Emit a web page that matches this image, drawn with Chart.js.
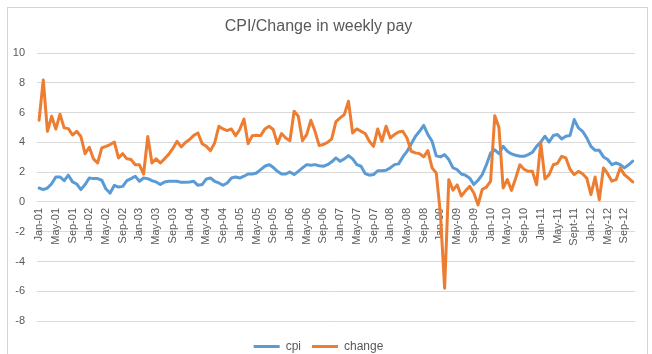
<!DOCTYPE html>
<html>
<head>
<meta charset="utf-8">
<script src="https://cdn.jsdelivr.net/npm/chart.js@4.4.0/dist/chart.umd.min.js"></script>
<style>
html,body{margin:0;padding:0;background:#fff;}
#wrap{position:relative;width:652px;height:354px;overflow:hidden;background:#fff;}
#c{position:absolute;left:0;top:0;}
#frame{position:absolute;left:7px;top:7px;width:639px;height:346px;border:1px solid #d4d4d4;pointer-events:none;}
</style>
</head>
<body>
<div id="wrap"><canvas id="c" width="652" height="354"></canvas><div id="frame"></div></div>
<script>
// Category labels (monthly, Jan-01 .. Nov-12)
const monthNames = ["Jan","Feb","Mar","Apr","May","Jun","Jul","Aug","Sep","Oct","Nov","Dec"];
const yearCodes = ["01","02","03","04","05","06","07","08","09","10","11","12"];
const labelOverrides = { "Sep-11": "Sept-11" };
const categories = [];
for (const y of yearCodes) {
  for (const m of monthNames) {
    if (categories.length < 143) {
      const l = m + "-" + y;
      categories.push(labelOverrides[l] || l);
    }
  }
}

const cpi = [
  0.94, 0.83, 0.94, 1.23, 1.68, 1.68, 1.43, 1.8, 1.35, 1.21, 0.83, 1.17,
  1.61, 1.57, 1.57, 1.46, 0.87, 0.6, 1.12, 1.0, 1.05, 1.43, 1.57, 1.73,
  1.39, 1.61, 1.57, 1.43, 1.35, 1.17, 1.35, 1.39, 1.39, 1.39, 1.32, 1.32,
  1.35, 1.39, 1.12, 1.17, 1.55, 1.61, 1.39, 1.28, 1.12, 1.28, 1.61, 1.68,
  1.61, 1.73, 1.88, 1.88, 1.95, 2.17, 2.4, 2.51, 2.33, 2.06, 1.88, 1.88,
  2.02, 1.84, 2.06, 2.29, 2.51, 2.47, 2.51, 2.44, 2.4, 2.51,
  2.7, 2.96, 2.74, 2.9, 3.12, 2.9, 2.51, 2.4, 1.91, 1.8, 1.84, 2.1,
  2.1, 2.13, 2.29, 2.51, 2.56,
  3.03, 3.4, 3.9, 4.4, 4.75, 5.15, 4.53, 4.08, 3.1, 3.03, 3.18, 2.85,
  2.3, 2.17, 1.88, 1.8, 1.6, 1.17, 1.46, 1.84,
  2.5, 3.3, 3.5, 3.25, 3.74, 3.41, 3.23, 3.14, 3.07, 3.07, 3.18, 3.34,
  3.74, 4.03, 4.42, 4.03, 4.47, 4.53, 4.24, 4.42, 4.47, 5.54, 4.98, 4.75,
  4.31, 3.74, 3.47, 3.47, 3.03, 2.85, 2.51, 2.62, 2.51, 2.29, 2.5, 2.74
];

const change = [
  5.5, 8.2, 4.75, 5.76, 4.9, 5.9, 4.98, 4.93, 4.5, 4.75, 4.4, 3.25,
  3.68, 2.9, 2.62, 3.63, 3.74, 3.86, 4.03, 2.96, 3.25, 2.9, 2.85, 2.5,
  2.5, 1.88, 4.4, 2.62, 2.9, 2.62, 2.9, 3.2, 3.6, 4.08, 3.7, 4.0,
  4.2,
  4.48, 4.64, 3.92, 3.74, 3.45, 3.97, 5.09, 4.91, 4.8, 4.91, 4.46, 4.87,
  5.58, 3.92, 4.46, 4.48, 4.46, 4.91, 5.09, 4.87, 3.92, 4.6, 4.3, 4.12,
  6.1, 5.76, 4.12, 4.53, 5.49, 4.75, 3.79, 3.86, 4.01, 4.24,
  5.4, 5.65, 5.87, 6.77, 4.64, 4.91, 4.75, 4.6, 4.08, 3.74, 4.91, 4.08,
  5.09, 4.3, 4.53, 4.71, 4.75, 4.3, 3.41, 3.3, 3.25, 3.03, 3.45, 2.29, 1.95,
  -0.8, -5.8, 1.5, 0.8, 1.15, 0.4, 0.75, 1.05, 0.6, -0.2, 0.85,
  1.0, 1.4, 5.8, 5.0, 0.94, 1.5, 0.78, 1.6, 2.5, 2.2, 2.06, 2.06,
  1.16, 3.97, 1.55, 1.84, 2.5, 2.6, 3.07, 2.96, 2.2, 1.84, 2.06, 1.9,
  1.6, 0.5, 1.68, 0.15, 2.29, 1.9, 1.4, 1.5, 2.29, 1.84, 1.6, 1.35
];

const seriesNames = ["cpi", "change"];
const titleText = "CPI/Change in weekly pay";
const yMin = -8, yMax = 10, yStep = 2;
const labelEvery = 4;

const FONT = "'Liberation Sans', Arial, sans-serif";
const TXT = "#595959";

new Chart(document.getElementById("c"), {
  type: "line",
  data: {
    labels: categories,
    datasets: [
      { label: seriesNames[0], data: cpi, borderColor: "#5B9BD5", backgroundColor: "#5B9BD5",
        borderWidth: 3, pointRadius: 0, tension: 0, borderCapStyle: "round", borderJoinStyle: "round", order: 1 },
      { label: seriesNames[1], data: change, borderColor: "#ED7D31", backgroundColor: "#ED7D31",
        borderWidth: 3, pointRadius: 0, tension: 0, borderCapStyle: "round", borderJoinStyle: "round", order: 0 }
    ]
  },
  options: {
    responsive: false,
    animation: false,
    devicePixelRatio: 1,
    layout: { padding: { left: 0, right: 15, top: 0, bottom: -8.4 } },
    plugins: {
      title: { display: true, text: titleText, color: TXT,
        font: { family: FONT, size: 16, weight: "normal" }, padding: { top: 17, bottom: 17 } },
      legend: {
        position: "bottom",
        title: { display: true, text: " ", padding: 0, font: { size: 7 } },
        labels: {
          usePointStyle: true, pointStyle: "line", pointStyleWidth: 26,
          font: { family: FONT, size: 12 }, color: TXT, padding: 11,
          sort: (a, b) => a.datasetIndex - b.datasetIndex
        }
      },
      tooltip: { enabled: false }
    },
    scales: {
      x: {
        type: "category",
        position: { y: 0 },
        offset: true,
        grid: { display: false, drawTicks: false },
        border: { display: false },
        ticks: {
          autoSkip: false, minRotation: 90, maxRotation: 90, padding: 6,
          color: TXT, font: { family: FONT, size: 11 },
          callback: function (v, i) { return i % labelEvery === 0 ? categories[i] : ""; }
        }
      },
      y: {
        min: yMin, max: yMax,
        afterFit: function (s) { s.width = 37; },
        grid: { color: "#d9d9d9", lineWidth: 1, drawTicks: false },
        border: { display: false },
        ticks: { stepSize: yStep, padding: 12, color: TXT, font: { family: FONT, size: 11 } }
      }
    }
  }
});
</script>
</body>
</html>
